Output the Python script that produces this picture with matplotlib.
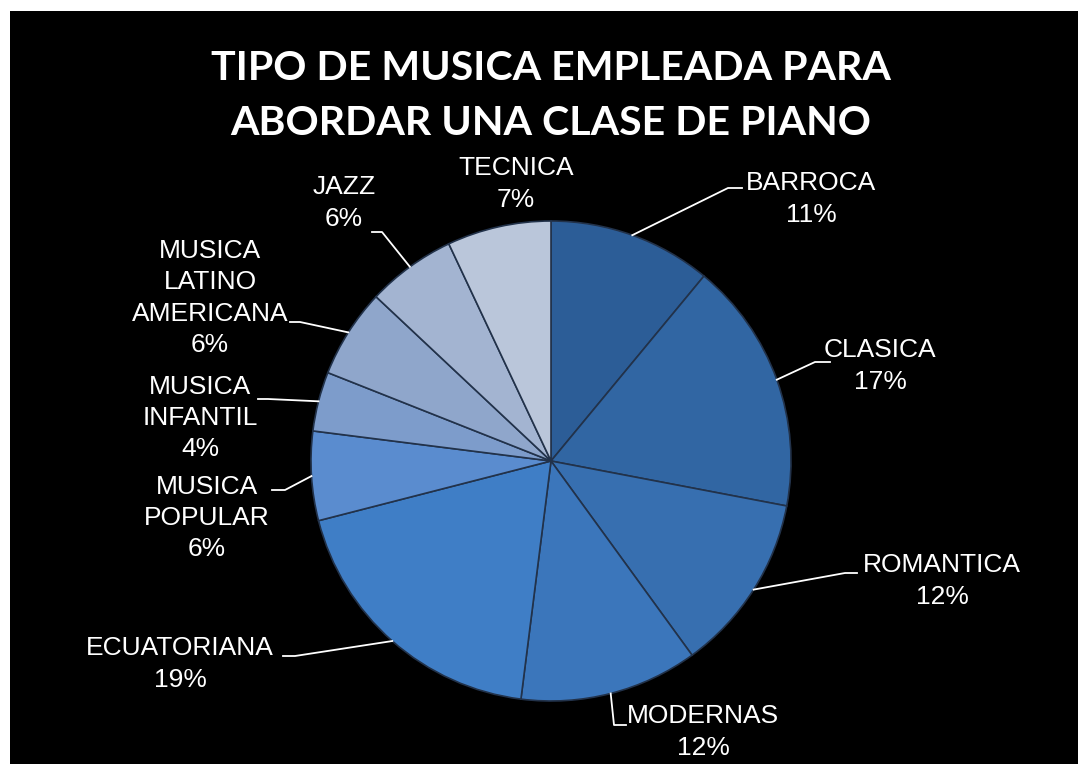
import matplotlib
matplotlib.use("Agg")
import matplotlib.pyplot as plt
import numpy as np
from matplotlib.patches import Rectangle

# ---- data ----
categories = ["BARROCA", "CLASICA", "ROMANTICA", "MODERNAS", "ECUATORIANA",
              "MUSICA\nPOPULAR", "MUSICA\nINFANTIL", "MUSICA\nLATINO\nAMERICANA",
              "JAZZ", "TECNICA"]
values = [11, 17, 12, 12, 19, 6, 4, 6, 6, 7]
title = "TIPO DE MUSICA EMPLEADA PARA\nABORDAR UNA CLASE DE PIANO"

colors = ["#2C5D97", "#3166A3", "#376FB0", "#3B76BB", "#3F7EC6",
          "#5A8CCF", "#7D9CCB", "#8FA6CB", "#A3B4D1", "#BAC6DA"]

# ---- layout (pixel coords, y from top) ----
W, H = 1078, 764
cx, cy, R = 551, 461, 240
label_xy = [(811, 199), (880, 366), (942, 581), (703, 732), (180, 664),
            (207, 518), (200, 418), (210, 298), (344, 203), (516, 184)]
# elbow and end of leader lines
leader = [((728, 188), (742, 188)), ((815, 362), (830, 362)),
          ((845, 573), (857, 573)), ((614, 725), (626, 725)),
          ((295, 656), (283, 656)), ((285, 490), (272, 490)),
          ((268, 399), (258, 399)), ((300, 322), (290, 322)),
          ((382, 232), (372, 232)), None]

fig = plt.figure(figsize=(W / 100, H / 100), dpi=100, facecolor="white")
ax = fig.add_axes([0, 0, 1, 1])

def Y(y):
    return H - y

def fix_axes():
    ax.set_xlim(0, W)
    ax.set_ylim(0, H)
    ax.set_aspect("equal")
    ax.axis("off")

ax.add_patch(Rectangle((10, 0), W - 10, H - 11, facecolor="black", edgecolor="none", zorder=0))

total = sum(values)
pcts = [v / total * 100 for v in values]

wedges, _ = ax.pie(values, colors=colors, startangle=90, counterclock=False,
                   center=(cx, Y(cy)), radius=R, frame=True,
                   wedgeprops=dict(edgecolor="#22324a", linewidth=1.2))
fix_axes()

cum = 0.0
for i, (cat, p) in enumerate(zip(categories, pcts)):
    mid = (cum + p / 2) / 100 * 2 * np.pi
    cum += p
    sx = cx + R * np.sin(mid)
    sy = cy - R * np.cos(mid)
    lx, ly = label_xy[i]
    ax.text(lx, Y(ly), f"{cat}\n{int(round(p))}%", ha="center", va="center",
            color="white", fontsize=19, family="Liberation Sans", linespacing=1.38, zorder=5)
    if leader[i] is not None:
        (ex, ey), (fx, fy) = leader[i]
        ax.plot([sx, ex, fx], [Y(sy), Y(ey), Y(fy)], color="white", lw=1.3, zorder=4)

ax.text(551, Y(96), title, ha="center", va="center", color="white",
        fontsize=29.6, fontweight="bold", family="Lato", linespacing=1.6)

fig.savefig("out.png", dpi=100, facecolor="white")
